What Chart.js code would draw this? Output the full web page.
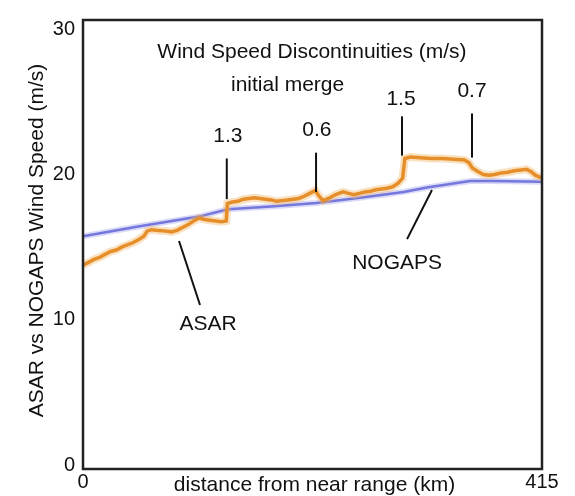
<!DOCTYPE html>
<html>
<head>
<meta charset="utf-8">
<script src="https://cdn.jsdelivr.net/npm/chart.js@4/dist/chart.umd.min.js"></script>
<style>
  html, body { margin: 0; padding: 0; background: #fff; }
  #wrap { width: 575px; height: 496px; }
</style>
</head>
<body>
<div id="wrap"><canvas id="chart"></canvas></div>
<script>
// ASAR wind speed along range (orange)
const asarKm = [0, 5, 10, 15, 20, 25, 30, 35, 40, 45, 50, 55, 58, 62, 68, 75, 80, 85, 90, 95,
  100, 105, 110, 115, 120, 125, 129.5, 130.5, 135, 140, 145, 150, 155, 160, 165, 170, 175, 180,
  185, 190, 195, 200, 205, 210, 213, 217, 222, 228, 235, 240, 245, 250, 255, 260, 265, 270, 275,
  280, 285, 289, 291, 296, 305, 315, 325, 335, 345, 349, 352, 357, 362, 367, 372, 378, 384, 390,
  396, 401, 405, 409, 415];
const asarSpeed = [13.75, 13.95, 14.15, 14.3, 14.5, 14.7, 14.8, 15.0, 15.15, 15.3, 15.5, 15.75, 16.1, 16.2, 16.15, 16.1, 16.05, 16.15, 16.35, 16.55,
  16.8, 17.0, 16.9, 16.85, 16.8, 16.75, 16.8, 18.0, 18.1, 18.15, 18.3, 18.35, 18.4, 18.35, 18.3, 18.25, 18.15, 18.2,
  18.25, 18.3, 18.35, 18.5, 18.7, 18.9, 18.55, 18.2, 18.35, 18.6, 18.8, 18.7, 18.6, 18.7, 18.8, 18.85, 18.95, 19.0, 19.05,
  19.15, 19.4, 19.75, 21.1, 21.2, 21.15, 21.1, 21.1, 21.05, 21.0, 20.8, 20.45, 20.2, 20.0, 19.95, 20.0, 20.1, 20.15, 20.25,
  20.3, 20.35, 20.2, 19.95, 19.75];

// NOGAPS model wind speed (blue)
const nogapsKm = [0, 50, 105, 131, 170, 211, 245, 271, 290, 311, 335, 350, 370, 415];
const nogapsSpeed = [15.75, 16.42, 17.1, 17.6, 17.8, 18.03, 18.35, 18.6, 18.8, 19.1, 19.38, 19.55, 19.55, 19.5];

const xTicks = [0, 415];
const yTicks = [0, 10, 20, 30];

// annotations, placed in data units
const annoLabels = ["Wind Speed Discontinuities (m/s)", "initial merge", "1.3", "0.6", "1.5", "0.7", "ASAR", "NOGAPS"];
const annoKm = [207, 185, 131, 211.5, 287.5, 351.7, 113, 284];
const annoSpeed = [28.4, 26.17, 22.65, 23.06, 25.2, 25.7, 9.67, 13.86];

const leaderFromKm = [130, 210.7, 288.4, 351.7, 86.8, 315.5];
const leaderFromSpeed = [21.1, 21.5, 24.0, 24.2, 15.42, 18.93];
const leaderToKm = [130, 210.7, 288.4, 351.7, 105.8, 293];
const leaderToSpeed = [18.3, 18.8, 21.3, 21.16, 11.02, 15.55];

const font = "'Liberation Sans', Arial, sans-serif";

const toXY = (xs, ys) => xs.map((x, i) => ({ x, y: ys[i] }));

const decor = {
    id: "decor",
    afterDatasetsDraw(chart) {
        const { ctx, chartArea: a, scales: { x, y } } = chart;
        ctx.save();
        // frame
        ctx.strokeStyle = "#222";
        ctx.lineWidth = 2.5;
        ctx.strokeRect(a.left, a.top, a.right - a.left, a.bottom - a.top);

        // leader lines
        ctx.lineWidth = 2;
        ctx.strokeStyle = "#111";
        leaderFromKm.forEach((k, i) => {
            ctx.beginPath();
            ctx.moveTo(x.getPixelForValue(k), y.getPixelForValue(leaderFromSpeed[i]));
            ctx.lineTo(x.getPixelForValue(leaderToKm[i]), y.getPixelForValue(leaderToSpeed[i]));
            ctx.stroke();
        });

        // labels
        ctx.fillStyle = "#111";
        ctx.font = "21px " + font;
        ctx.textAlign = "center";
        ctx.textBaseline = "middle";
        annoLabels.forEach((t, i) => {
            ctx.fillText(t, x.getPixelForValue(annoKm[i]), y.getPixelForValue(annoSpeed[i]));
        });

        // axis titles
        ctx.fillText("distance from near range (km)", (a.left + a.right) / 2 + 2, a.bottom + 16);
        ctx.translate(37, (a.top + a.bottom) / 2 - 4);
        ctx.rotate(-Math.PI / 2);
        ctx.fillText("ASAR vs NOGAPS Wind Speed (m/s)", 0, 0);
        ctx.restore();
    }
};

new Chart(document.getElementById("chart"), {
    type: "line",
    data: {
        datasets: [
            { data: toXY(nogapsKm, nogapsSpeed), borderColor: "rgba(150,150,235,0.35)", borderWidth: 6, pointRadius: 0, order: 4 },
            { data: toXY(nogapsKm, nogapsSpeed), borderColor: "#7477dc", borderWidth: 2.5, pointRadius: 0, order: 3 },
            { data: toXY(asarKm, asarSpeed), borderColor: "rgba(243,180,100,0.4)", borderWidth: 8, pointRadius: 0, order: 2 },
            { data: toXY(asarKm, asarSpeed), borderColor: "#e58e2a", borderWidth: 3.5, pointRadius: 0, order: 1 }
        ]
    },
    options: {
        responsive: true,
        maintainAspectRatio: false,
        animation: false,
        layout: { padding: { left: 0, right: 33, top: 12, bottom: 0 } },
        plugins: { legend: { display: false }, tooltip: { enabled: false } },
        scales: {
            x: {
                type: "linear",
                min: 0,
                max: 415,
                afterBuildTicks: (s) => { s.ticks = xTicks.map((v) => ({ value: v })); },
                afterFit: (s) => { s.height = 27; },
                grid: { display: false, drawTicks: false },
                border: { display: false },
                ticks: { color: "#111", padding: 1, maxRotation: 0, autoSkip: false, font: { family: font, size: 20 } }
            },
            y: {
                type: "linear",
                min: -0.27,
                max: 30.63,
                afterBuildTicks: (s) => { s.ticks = yTicks.map((v) => ({ value: v })); },
                afterFit: (s) => { s.width = 83; },
                grid: { display: false, drawTicks: false },
                border: { display: false },
                ticks: { color: "#111", padding: 8, font: { family: font, size: 20 } }
            }
        }
    },
    plugins: [decor]
});
</script>
</body>
</html>
